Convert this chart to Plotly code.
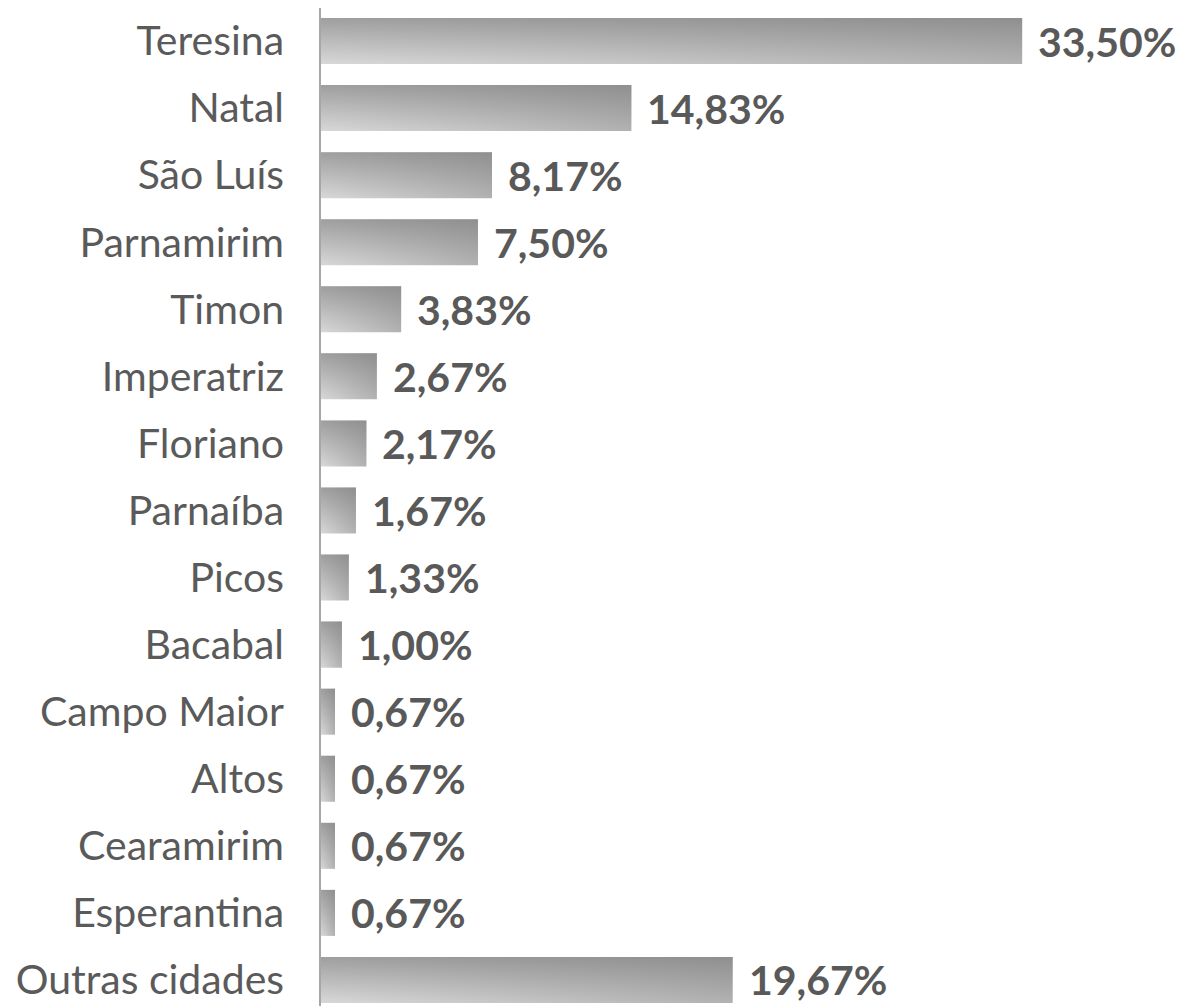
import plotly.graph_objects as go

cities = ["Teresina", "Natal", "São Luís", "Parnamirim", "Timon", "Imperatriz",
          "Floriano", "Parnaíba", "Picos", "Bacabal", "Campo Maior", "Altos",
          "Cearamirim", "Esperantina", "Outras cidades"]
values = [33.50, 14.83, 8.17, 7.50, 3.83, 2.67, 2.17, 1.67, 1.33, 1.00,
          0.67, 0.67, 0.67, 0.67, 19.67]

n = len(cities)
half = 0.343
FONT = "Lato"
PX_PER_UNIT = 20.93
ROW_PX = 67.07
W, H = 1179, 998
L = 313

fig = go.Figure()
positions = [n - 1 - i for i in range(n)]
for city, v, p in zip(cities, values, positions):
    xs = [0, v, v, 0, 0]
    ys = [p - half, p - half, p + half, p + half, p - half]
    fig.add_trace(go.Scatter(
        x=xs, y=ys, mode="lines", fill="toself", line=dict(width=0),
        fillgradient=dict(type="horizontal",
                          colorscale=[[0, "#d8d8d8"], [1, "#b2b2b2"]]),
        hoverinfo="skip", showlegend=False))
    fig.add_trace(go.Scatter(
        x=xs, y=ys, mode="lines", fill="toself", line=dict(width=0),
        fillgradient=dict(type="vertical",
                          colorscale=[[0, "rgba(120,120,120,0)"],
                                      [1, "rgba(120,120,120,0.6)"]]),
        hoverinfo="skip", showlegend=False))
    fig.add_annotation(x=v, y=p, text=f"{v:.2f}".replace(".", ",") + "%",
                       xanchor="left", yanchor="middle", xshift=14,
                       showarrow=False,
                       font=dict(family=FONT, size=41, color="#595959", weight="bold"))

top = (n - 1) + 33 / ROW_PX
fig.update_layout(
    width=W, height=H,
    margin=dict(l=L, r=0, t=0, b=0, autoexpand=False),
    plot_bgcolor="white", paper_bgcolor="white",
    xaxis=dict(range=[0, (W - L) / PX_PER_UNIT], visible=False, fixedrange=True),
    yaxis=dict(range=[top - H / ROW_PX, top], tickmode="array",
               tickvals=positions, ticktext=cities, automargin=False,
               tickfont=dict(family=FONT, size=41, color="#5a5a5a"),
               showline=True, linecolor="#a6a6a6", linewidth=1.5,
               showgrid=False, zeroline=False, ticks="", ticklabelstandoff=27),
)

fig.write_html("out.html")
